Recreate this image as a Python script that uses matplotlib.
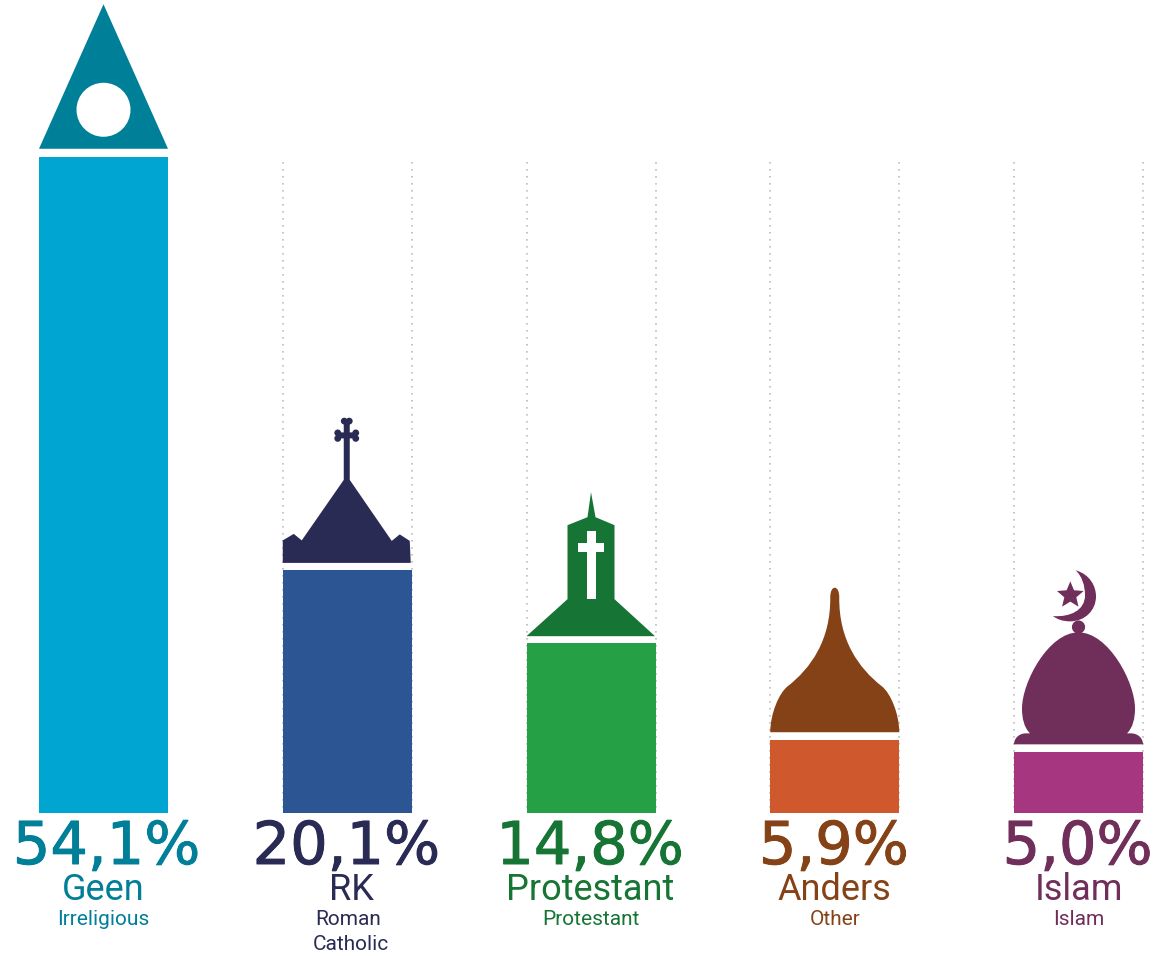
import matplotlib
matplotlib.use('Agg')
import matplotlib.pyplot as plt
import matplotlib.patheffects as pe
from matplotlib.path import Path
from matplotlib.patches import PathPatch
from matplotlib.transforms import Affine2D

percent_labels = ['54,1%', '20,1%', '14,8%', '5,9%', '5,0%']
names = ['Geen', 'RK', 'Protestant', 'Anders', 'Islam']
translations = ['Irreligious', 'Roman\nCatholic', 'Protestant', 'Other', 'Islam']
# bar heights as drawn in the picture (the protestant bar is shorter than its label)
bar_values = [54.1, 20.0, 14.0, 6.0, 5.0]

bar_colors = ['#00A5D1', '#2C5593', '#25A045', '#CF592C', '#A6367F']
dark_colors = ['#007F99', '#2A2B54', '#167534', '#854216', '#702E5A']

# small horizontal nudges of the text, in pixels
percent_dx = [3, -1, -1, -1, -1]
name_dx = [0, 4, -1, 0, 0]

M, L, C, Z = Path.MOVETO, Path.LINETO, Path.CURVE4, Path.CLOSEPOLY
PX_PER_UNIT = 12.13
W, H = 1162, 956
BASE = 813
GUIDE_TOP = (BASE - 162) / PX_PER_UNIT
BAR_W = 129 / 243.75

fig = plt.figure(figsize=(W / 100, H / 100), dpi=100)
ax = fig.add_axes([0, 0, 1, 1])
ax.set_xlim(-103.5 / 243.75, (W - 103.5) / 243.75)
ax.set_ylim((BASE - H) / PX_PER_UNIT, BASE / PX_PER_UNIT)
ax.axis('off')


def poly(pts):
    return [(M, pts[0])] + [(L, p) for p in pts[1:]] + [(Z, pts[0])]


def curve(*pts):
    return [(C, p) for p in pts]


def circle(cx, cy, r):
    k = 0.5523 * r
    return ([(M, (cx, cy - r))]
            + curve((cx + k, cy - r), (cx + r, cy - k), (cx + r, cy))
            + curve((cx + r, cy + k), (cx + k, cy + r), (cx, cy + r))
            + curve((cx - k, cy + r), (cx - r, cy + k), (cx - r, cy))
            + curve((cx - r, cy - k), (cx - k, cy - r), (cx, cy - r))
            + [(Z, (cx, cy - r))])


def draw_icon(i, segs, color, zorder=4):
    # shapes are offsets in pixels from the top centre of the bar, y pointing down
    tx, ty = ax.transData.transform((i, bar_values[i]))
    codes = [s[0] for s in segs]
    verts = [s[1] for s in segs]
    tr = Affine2D().scale(1, -1).translate(tx, ty)
    ax.add_patch(PathPatch(Path(verts, codes), facecolor=color, edgecolor='none',
                           transform=tr, zorder=zorder))


# dotted guides along the bar edges, drawn from the top down
for i in range(1, len(names)):
    for side in (-1, 1):
        ax.plot([i + side * BAR_W / 2] * 2, [GUIDE_TOP, 0], color='#BDBDBD', lw=1.2,
                linestyle=(0, (1.0, 3.2)), zorder=1)

ax.bar(range(len(names)), bar_values, width=BAR_W, color=bar_colors, zorder=2)

# Geen: triangle with a hole
draw_icon(0, poly([(-64.5, -8), (0, -152.5), (64.5, -8)]), dark_colors[0])
draw_icon(0, circle(0, -47, 27), 'white', 5)

# RK: roof and cross
draw_icon(1, poly([(-64.5, -7.5), (-64.5, -30), (-53.5, -36.5), (-45.5, -30), (-3.5, -90.5),
                   (-3.5, -132), (-9, -132), (-9, -138), (-3.5, -138), (-3.5, -149),
                   (2.5, -149), (2.5, -138), (8, -138), (8, -132), (2.5, -132), (2.5, -90.5),
                   (44.5, -29.5), (52.5, -36), (62.5, -29.5), (63.5, -7.5)]), dark_colors[1])
for cx, cy in [(-3, -149.3), (2, -149.3), (-9.5, -137.5), (-9.5, -132), (8.5, -137.5), (8.5, -132)]:
    draw_icon(1, circle(cx, cy, 3.4), dark_colors[1])

# Protestant: tower with white cross
draw_icon(2, poly([(-64.5, -7), (-23.5, -44), (-23.5, -118), (-3.5, -126), (0, -151),
                   (4.5, -126), (23.5, -118), (23.5, -44), (64, -7)]), dark_colors[2])
draw_icon(2, poly([(-4.5, -44), (-4.5, -91), (-13, -91), (-13, -100), (-4.5, -100), (-4.5, -112),
                   (4.5, -112), (4.5, -100), (13, -100), (13, -91), (4.5, -91), (4.5, -44)]),
          'white', 5)

# Anders: onion dome
draw_icon(3, [(M, (-64.5, -8))]
          + curve((-64.5, -26), (-56, -47), (-47, -54))
          + curve((-24, -72), (-4, -100), (-4.5, -143))
          + curve((-4.5, -149), (-2.5, -152.5), (0, -152.5))
          + curve((2.5, -152.5), (4.5, -149), (4.5, -143))
          + curve((4, -100), (24, -72), (47, -54))
          + curve((56, -47), (64.5, -26), (64.5, -8))
          + [(Z, (-64.5, -8))], dark_colors[3])

# Islam: mosque dome, ball, crescent and star
draw_icon(4, [(M, (-64.5, -8))]
          + curve((-64.5, -14), (-59.5, -19), (-52.5, -19))
          + [(L, (-48.5, -19))]
          + curve((-54.5, -25), (-56.5, -34), (-56.5, -44))
          + curve((-56.5, -70), (-30, -120), (0, -120))
          + curve((30, -120), (56.5, -70), (56.5, -44))
          + curve((56.5, -34), (54.5, -25), (48.5, -19))
          + [(L, (52.5, -19))]
          + curve((59.5, -19), (64.5, -14), (64.5, -8))
          + [(Z, (-64.5, -8))], dark_colors[4])
draw_icon(4, circle(0, -125.3, 6.6), dark_colors[4])
draw_icon(4, [(M, (-2.8, -182))]
          + curve((11.5, -178), (17.5, -166), (17.5, -156))
          + curve((17.5, -142), (6.5, -131), (-8.5, -131))
          + curve((-15.5, -131), (-21.5, -133), (-25.5, -136.3))
          + curve((-8.5, -135), (6.5, -142), (6.5, -157))
          + curve((6.5, -167), (3.5, -176), (-2.8, -182))
          + [(Z, (-2.8, -182))], dark_colors[4])
star = Path.unit_regular_star(5, 0.45).transformed(Affine2D().scale(14, -14).translate(-8.2, -157))
draw_icon(4, list(zip(star.codes, [tuple(v) for v in star.vertices])), dark_colors[4])


def label(i, text, px_below, size, family, dx=0, stroke=0):
    t = ax.annotate(text, xy=(i, 0), xytext=(dx * 0.72, -px_below * 0.72), textcoords='offset points',
                    ha='center', va='baseline', fontsize=size, family=family, color=dark_colors[i])
    if stroke:
        t.set_path_effects([pe.withStroke(linewidth=stroke, foreground=dark_colors[i])])


narrow = ['Roboto', 'DejaVu Sans']
for i in range(len(names)):
    label(i, percent_labels[i], 51, 42.5, ['DejaVu Sans'], percent_dx[i], stroke=0.7)
    label(i, names[i], 87, 26, narrow, name_dx[i])
    first, *rest = translations[i].split('\n')
    label(i, first, 112, 15, narrow, 1 if rest else 0)
    if rest:
        label(i, rest[0], 137, 15, narrow, name_dx[i])

fig.savefig('out.png', dpi=100, facecolor='white')
